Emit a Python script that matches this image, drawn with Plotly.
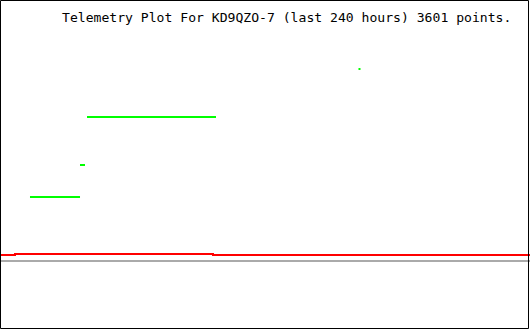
import plotly.graph_objects as go

# Time axis: hours relative to now (last 240 hours)
green_seg1_x = [-226.42, -203.77]
green_seg1_y = [40.30, 40.30]
green_seg2_x = [-203.77, -201.51]
green_seg2_y = [50.00, 50.00]
green_seg3_x = [-200.60, -142.19]
green_seg3_y = [64.55, 64.55]
green_dot_x = [-77.21]
green_dot_y = [79.09]

red_x = [-240.0, -233.21, -143.55, 0.0]
red_y = [22.73, 23.03, 22.73, 22.73]

gray_x = [-240.0, 0.0]
gray_y = [20.91, 20.91]

title_text = "Telemetry Plot For KD9QZO-7 (last 240 hours) 3601 points."

GREEN = "#00ff00"
RED = "#ff0000"
GRAY = "#aaaaaa"

fig = go.Figure()
fig.add_trace(go.Scatter(x=gray_x, y=gray_y, mode="lines",
                         line=dict(color=GRAY, width=2), hoverinfo="skip"))
fig.add_trace(go.Scatter(x=red_x, y=red_y, mode="lines",
                         line=dict(color=RED, width=2, shape="hv"), hoverinfo="skip"))
for xs, ys in [(green_seg1_x, green_seg1_y), (green_seg2_x, green_seg2_y),
               (green_seg3_x, green_seg3_y)]:
    fig.add_trace(go.Scatter(x=xs, y=ys, mode="lines",
                             line=dict(color=GREEN, width=2), hoverinfo="skip"))
fig.add_trace(go.Scatter(x=green_dot_x, y=green_dot_y, mode="markers",
                         marker=dict(color=GREEN, size=2, symbol="square",
                                     line=dict(width=0)), hoverinfo="skip"))

fig.add_annotation(text=title_text, xref="paper", yref="paper",
                   x=59.5 / 530, y=1 - 17.5 / 330, xanchor="left", yanchor="middle",
                   showarrow=False,
                   font=dict(family="DejaVu Sans Mono", size=13.1, color="black"))

fig.add_shape(type="rect", xref="paper", yref="paper",
              x0=0.5 / 530, x1=528.5 / 530, y0=1.5 / 330, y1=329.5 / 330,
              line=dict(color="black", width=1), fillcolor="rgba(0,0,0,0)")

fig.update_layout(
    width=530, height=330,
    margin=dict(l=0, r=0, t=0, b=0),
    paper_bgcolor="white", plot_bgcolor="white",
    showlegend=False,
    xaxis=dict(range=[-240, 0], visible=False, fixedrange=True),
    yaxis=dict(range=[0, 100], visible=False, fixedrange=True),
)

fig.write_html("out.html", config={"displayModeBar": False})
